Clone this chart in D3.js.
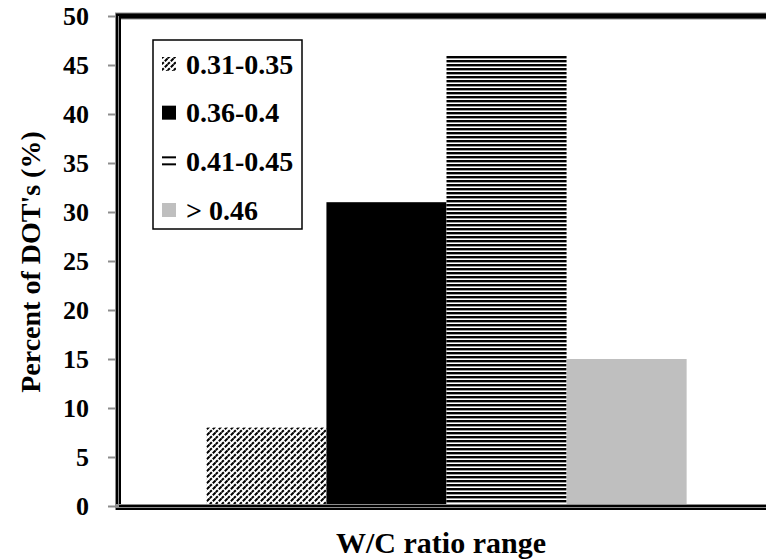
<!DOCTYPE html>
<html>
<head>
<meta charset="utf-8">
<script src="https://cdn.jsdelivr.net/npm/d3@7"></script>
<style>
  html, body { margin: 0; padding: 0; background: #fff; }
  svg { display: block; }
</style>
</head>
<body>
<svg id="chart" width="766" height="559"></svg>
<script>
// W/C ratio range classes and their share of DOT's (%)
const series = ["0.31-0.35", "0.36-0.4", "0.41-0.45", "> 0.46"];
const values = [8, 31, 46, 15];
const groupLabel = ["W/C ratio range"];
const yTicks = [0, 5, 10, 15, 20, 25, 30, 35, 40, 45, 50];

const FONT = "Liberation Serif";
const svg = d3.select("#chart");
const W = 766, H = 559;
const plot = { left: 118, right: 775, top: 16, bottom: 506 };

// Fill patterns
const defs = svg.append("defs");
const hatch = defs.append("pattern")
  .attr("id", "hatch").attr("patternUnits", "userSpaceOnUse")
  .attr("width", 6).attr("height", 6);
hatch.append("rect").attr("width", 6).attr("height", 6).attr("fill", "#fff");
hatch.append("path").attr("d", "M-1,7 L7,-1 M-4,4 L4,-4 M2,10 L10,2")
  .attr("stroke", "#000").attr("stroke-width", 2).attr("stroke-dasharray", "4,1.4");

const hlines = defs.append("pattern")
  .attr("id", "hlines").attr("patternUnits", "userSpaceOnUse")
  .attr("width", 8).attr("height", 4);
hlines.append("rect").attr("width", 8).attr("height", 4).attr("fill", "#fff");
hlines.append("rect").attr("y", 0).attr("width", 8).attr("height", 2.4).attr("fill", "#000");

// legend swatch variant: two bars per swatch
const hlinesLegend = defs.append("pattern")
  .attr("id", "hlinesLegend").attr("patternUnits", "objectBoundingBox")
  .attr("width", 1).attr("height", 0.5);
hlinesLegend.append("rect").attr("width", 20).attr("height", 7).attr("fill", "#fff");
hlinesLegend.append("rect").attr("y", 2).attr("width", 20).attr("height", 2).attr("fill", "#000");

const fills = ["url(#hatch)", "#000", "url(#hlines)", "#bfbfbf"];
const legendFills = ["url(#hatch)", "#000", "url(#hlinesLegend)", "#bfbfbf"];

// Scales
const x0 = d3.scaleBand().domain(groupLabel).range([plot.left, plot.right])
  .paddingInner(0).paddingOuter(0.184);
const x1 = d3.scaleBand().domain(series).range([0, x0.bandwidth()]).padding(0);
const y = d3.scaleLinear().domain([0, 50]).range([plot.bottom, plot.top]);

// Bars
svg.append("g").selectAll("rect")
  .data(series.map((s, i) => ({ s, v: values[i], f: fills[i] })))
  .join("rect")
  .attr("x", d => x0(groupLabel[0]) + x1(d.s))
  .attr("y", d => y(d.v))
  .attr("width", x1.bandwidth())
  .attr("height", d => y(0) - y(d.v))
  .attr("fill", d => d.f);

// Y axis ticks and labels
const yAxis = d3.axisLeft(y).tickValues(yTicks).tickSize(8).tickPadding(19);
const gy = svg.append("g").attr("transform", `translate(${plot.left - 2},0)`).call(yAxis)
  .attr("font-family", FONT);
gy.select(".domain").remove();
gy.selectAll(".tick line").attr("stroke", "#8c8c8c").attr("stroke-width", 2);
gy.selectAll(".tick text")
  .attr("font-family", FONT).attr("font-weight", "bold")
  .attr("font-size", 26).attr("fill", "#000").attr("dy", "0.34em");

// Frame: thick top rule, double left and bottom rules
const frame = svg.append("g");
frame.append("line").attr("x1", plot.left - 3).attr("x2", W).attr("y1", plot.top).attr("y2", plot.top)
  .attr("stroke", "#8c8c8c").attr("stroke-width", 7);
frame.append("line").attr("x1", plot.left - 2).attr("x2", W).attr("y1", plot.top).attr("y2", plot.top)
  .attr("stroke", "#000").attr("stroke-width", 5);
// left double rule
frame.append("rect").attr("x", plot.left - 3).attr("y", plot.top).attr("width", 6)
  .attr("height", plot.bottom - plot.top + 3).attr("fill", "#8c8c8c");
frame.append("rect").attr("x", plot.left - 2).attr("y", plot.top).attr("width", 2)
  .attr("height", plot.bottom - plot.top + 3).attr("fill", "#000");
frame.append("rect").attr("x", plot.left + 1).attr("y", plot.top).attr("width", 2)
  .attr("height", plot.bottom - plot.top).attr("fill", "#000");
// bottom double rule
frame.append("rect").attr("x", plot.left - 3).attr("y", plot.bottom - 2).attr("width", W - plot.left + 3)
  .attr("height", 6).attr("fill", "#8c8c8c");
frame.append("rect").attr("x", plot.left + 1).attr("y", plot.bottom - 1).attr("width", W - plot.left)
  .attr("height", 2).attr("fill", "#000");
frame.append("rect").attr("x", plot.left - 2).attr("y", plot.bottom + 2).attr("width", W - plot.left + 2)
  .attr("height", 2).attr("fill", "#000");

// Legend
const lg = svg.append("g");
lg.append("rect").attr("x", 153).attr("y", 40).attr("width", 149).attr("height", 189)
  .attr("fill", "#fff").attr("stroke", "#000").attr("stroke-width", 1.5);
const legendY = d3.scalePoint().domain(series).range([64, 210]);
const items = lg.selectAll("g.item").data(series).join("g").attr("class", "item")
  .attr("transform", d => `translate(0,${legendY(d)})`);
items.append("rect").attr("x", 162).attr("y", -7).attr("width", 14).attr("height", 14)
  .attr("fill", (d, i) => legendFills[i]);
items.append("text").attr("x", 186).attr("y", 0).attr("dy", "0.35em")
  .attr("font-family", FONT).attr("font-weight", "bold")
  .attr("font-size", 28).text(d => d);

// Axis titles
svg.append("text").attr("x", 441).attr("y", 553)
  .attr("text-anchor", "middle").attr("font-family", FONT).attr("font-weight", "bold")
  .attr("font-size", 30).text("W/C ratio range");
svg.append("text").attr("transform", `translate(30,${(plot.top + plot.bottom) / 2 + 1}) rotate(-90)`)
  .attr("dy", "0.35em").attr("text-anchor", "middle")
  .attr("font-family", FONT).attr("font-weight", "bold").attr("font-size", 28)
  .text("Percent of DOT's (%)");
</script>
</body>
</html>
